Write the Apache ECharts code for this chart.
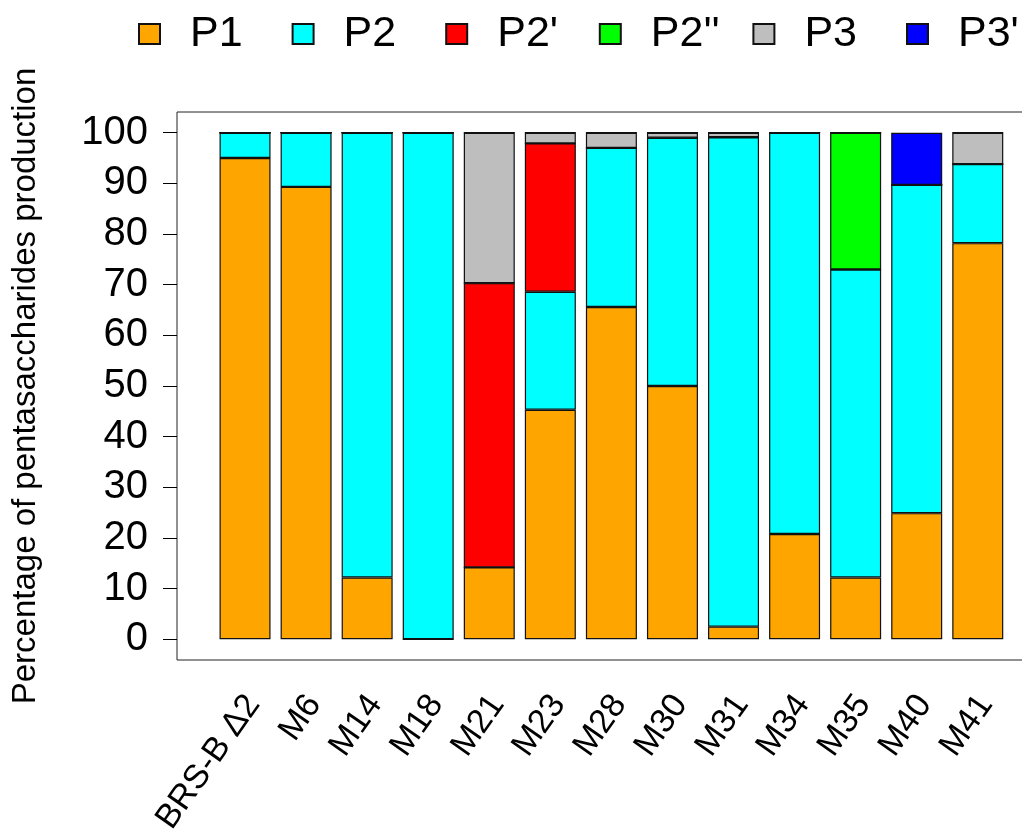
<!DOCTYPE html>
<html lang="en">
<head>
    <meta charset="UTF-8">
    <title>Pentasaccharides production</title>
    <script src="https://cdn.jsdelivr.net/npm/echarts@6/dist/echarts.min.js"></script>
    <style>
        body { margin: 0; background: #fff; }
    </style>
</head>
<body>
<div id="main" style="width: 1022px;height:830px;"></div>
<script type="text/javascript">
    // mutants on the x axis
    var categories = ['BRS-B \u03942', 'M6', 'M14', 'M18', 'M21', 'M23', 'M28', 'M30', 'M31', 'M34', 'M35', 'M40', 'M41'];
    var yTicks = [0, 10, 20, 30, 40, 50, 60, 70, 80, 90, 100];

    // percentage of each product, stacked bottom to top
    var p1     = [95.0, 89.3, 12.2, 0,    14.2, 45.3, 65.6, 50.0, 2.5,  20.8, 12.2, 24.9, 78.2];
    var p2     = [5.0,  10.7, 87.8, 100,  0,    23.3, 31.4, 49.0, 96.6, 79.2, 60.8, 64.8, 15.6];
    var p2a    = [0,    0,    0,    0,    56.1, 29.3, 0,    0,    0,    0,    0,    0,    0];
    var p2b    = [0,    0,    0,    0,    0,    0,    0,    0,    0,    0,    27.0, 0,    0];
    var p3     = [0,    0,    0,    0,    29.7, 2.1,  3.0,  1.0,  0.9,  0,    0,    0,    6.2];
    var p3a    = [0,    0,    0,    0,    0,    0,    0,    0,    0,    0,    0,    10.3, 0];

    var names = ['P1', 'P2', "P2'", "P2''", 'P3', "P3'"];
    var colors = ['#FFA500', '#00FFFF', '#FF0000', '#00FF00', '#BEBEBE', '#0000FF'];
    var values = [p1, p2, p2a, p2b, p3, p3a];

    var font = '"Liberation Sans", Arial, Helvetica, sans-serif';
    var myChart = echarts.init(document.getElementById('main'));

    // one legend per entry so they sit at fixed steps like the original
    var legendLeft = [138, 291.6, 445.2, 598.8, 752.4, 906];
    var legends = names.map(function (n, i) {
        return {
            data: [n],
            left: legendLeft[i],
            top: 12,
            padding: 0,
            icon: 'rect',
            itemWidth: 21,
            itemHeight: 20,
            selectedMode: false,
            textStyle: {
                fontFamily: font,
                fontSize: 43,
                lineHeight: 44,
                color: '#000',
                padding: [0, 0, 0, 25]
            }
        };
    });

    var series = names.map(function (n, i) {
        return {
            name: n,
            type: 'bar',
            stack: 'total',
            barWidth: 51,
            xAxisIndex: 0,
            yAxisIndex: 0,
            itemStyle: {
                color: colors[i],
                borderColor: '#111',
                borderWidth: 1.2
            },
            emphasis: { disabled: true },
            data: values[i]
        };
    });

    var option = {
        animation: false,
        backgroundColor: '#fff',
        color: colors,
        legend: legends,
        grid: [{
            // bars
            left: 214.5,
            top: 132.7,
            width: 793.8,
            height: 506.6,
            outerBoundsMode: 'none'
        }, {
            // frame around the plot
            left: 177,
            top: 112,
            right: -10,
            bottom: 170,
            show: true,
            borderColor: '#222',
            borderWidth: 1,
            backgroundColor: 'transparent',
            outerBoundsMode: 'none'
        }],
        xAxis: [{
            type: 'category',
            gridIndex: 0,
            data: categories,
            offset: 20.7,
            axisLine: { show: false },
            axisTick: {
                alignWithLabel: true,
                length: 14,
                lineStyle: { color: '#000', width: 1 }
            },
            axisLabel: {
                interval: 0,
                rotate: 55,
                margin: 50,
                padding: [0, -14, 0, 0],
                fontFamily: font,
                fontSize: 34,
                color: '#000'
            }
        }, {
            type: 'value',
            gridIndex: 1,
            show: false
        }],
        yAxis: [{
            type: 'value',
            gridIndex: 0,
            min: 0,
            max: 100,
            interval: 10,
            offset: 37.5,
            name: 'Percentage of pentasaccharides production',
            nameLocation: 'middle',
            nameGap: 135,
            nameTextStyle: {
                fontFamily: font,
                fontSize: 33,
                color: '#000'
            },
            splitLine: { show: false },
            axisLine: { show: false },
            axisTick: {
                show: true,
                length: 14,
                lineStyle: { color: '#000', width: 1 }
            },
            axisLabel: {
                margin: 29,
                fontFamily: font,
                fontSize: 40,
                color: '#000',
                formatter: function (v) {
                    return yTicks.indexOf(v) >= 0 ? String(v) : '';
                }
            }
        }, {
            type: 'value',
            gridIndex: 1,
            show: false
        }],
        series: series
    };

    myChart.setOption(option);
</script>
</body>
</html>
